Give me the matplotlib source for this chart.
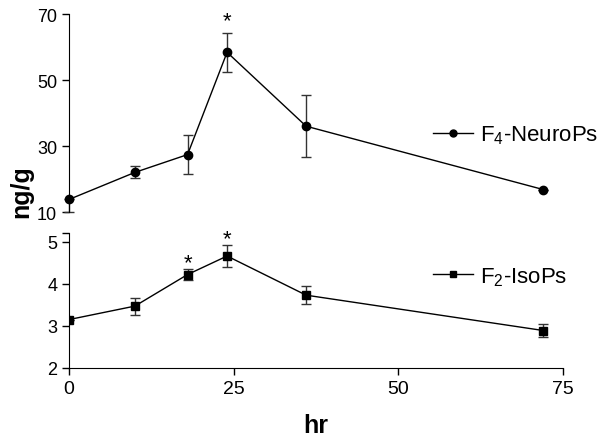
import numpy as np
import matplotlib.pyplot as plt
from matplotlib.lines import Line2D

plt.rcParams['font.family'] = ['Liberation Sans', 'DejaVu Sans']
plt.rcParams['mathtext.default'] = 'regular'

# datos
hours = [0, 10, 18, 24, 36, 72]
neuro_mean = [13.8, 22.0, 27.4, 58.4, 36.0, 16.8]
neuro_err_lo = [3.8, 1.8, 6.0, 5.9, 9.4, 0.0]
neuro_err_hi = [0.0, 1.8, 6.0, 5.9, 9.4, 0.0]
iso_mean = [3.15, 3.47, 4.22, 4.66, 3.73, 2.89]
iso_err = [0.0, 0.2, 0.13, 0.26, 0.21, 0.16]
neuro_stars = [24]
iso_stars = [18, 24]

fig = plt.figure(figsize=(6.04, 4.39), dpi=100)
ax1 = fig.add_axes([0.1142, 0.5148, 0.818, 0.451])
ax2 = fig.add_axes([0.1142, 0.1595, 0.818, 0.3068])

line_kw = dict(color='black', lw=1.0, ecolor='#333333', elinewidth=1.0, capsize=3.5, capthick=1.0)
ax1.errorbar(hours, neuro_mean, yerr=[neuro_err_lo, neuro_err_hi], fmt='-o', ms=6,
             clip_on=False, **line_kw)
ax2.errorbar(hours, iso_mean, yerr=iso_err, fmt='-s', ms=6, **line_kw)

# asteriscos de significancia
for x in neuro_stars:
    i = hours.index(x)
    ax1.annotate('*', (x, neuro_mean[i] + neuro_err_hi[i]), xytext=(0, 1), textcoords='offset points',
                 ha='center', va='bottom', fontsize=16)
for x in iso_stars:
    i = hours.index(x)
    ax2.annotate('*', (x, iso_mean[i] + iso_err[i]), xytext=(0, -3), textcoords='offset points',
                 ha='center', va='bottom', fontsize=16)

for ax in (ax1, ax2):
    ax.set_xlim(0, 75)
    ax.spines['top'].set_visible(False)
    ax.spines['right'].set_visible(False)
    ax.tick_params(width=1, length=5)
    ax.tick_params(axis='y', labelsize=13)
    ax.tick_params(axis='x', labelsize=14)

ax1.set_ylim(10, 70)
ax1.set_yticks([10, 30, 50, 70])
ax1.spines['bottom'].set_visible(False)
ax1.set_xticks([])

ax2.set_ylim(2, 5.2)
ax2.set_yticks([2, 3, 4, 5])
ax2.set_yticks([5.2], minor=True)
ax2.tick_params(axis='y', which='minor', length=5, width=1)
ax2.set_xticks([0, 25, 50, 75])
ax2.set_xlabel('hr', fontsize=18, fontweight='bold', labelpad=12)

fig.text(0.035, 0.563, 'ng/g', rotation=90, fontsize=18, fontweight='bold', ha='center', va='center')

h1 = Line2D([], [], color='black', lw=1.0, marker='o', ms=5)
h2 = Line2D([], [], color='black', lw=1.0, marker='s', ms=5)
ax1.legend([h1], ['F$_4$-NeuroPs'], loc='center left', bbox_to_anchor=(0.696, 0.39),
           frameon=False, fontsize=16, handlelength=1.8, handletextpad=0.3)
ax2.legend([h2], ['F$_2$-IsoPs'], loc='center left', bbox_to_anchor=(0.696, 0.68),
           frameon=False, fontsize=16, handlelength=1.8, handletextpad=0.3)

fig.savefig('out.png', dpi=100)
